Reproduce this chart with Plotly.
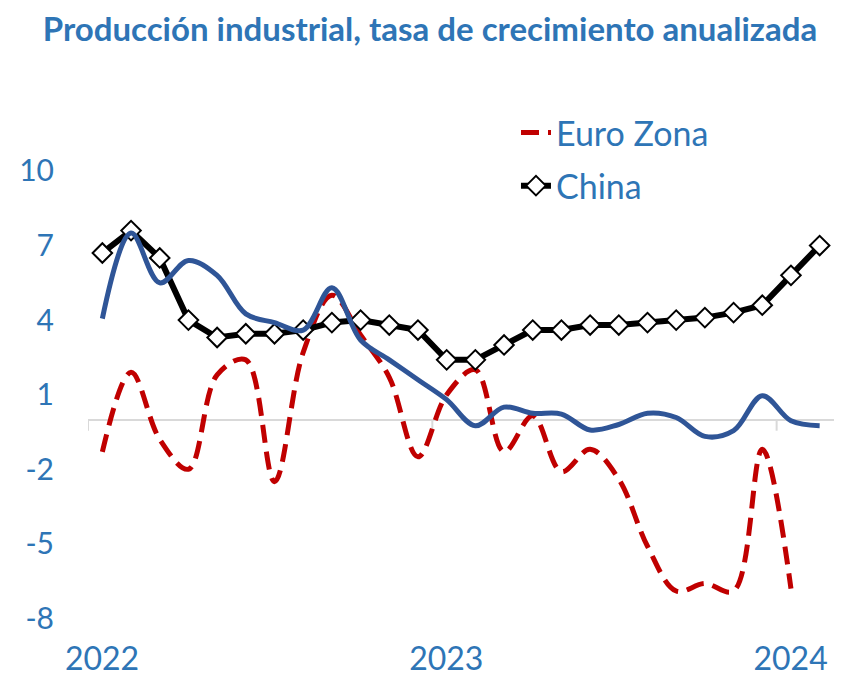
import plotly.graph_objects as go

# Monthly periods (Jan 2022 .. Feb 2024)
periods = ["2022-01", "2022-02", "2022-03", "2022-04", "2022-05", "2022-06",
           "2022-07", "2022-08", "2022-09", "2022-10", "2022-11", "2022-12",
           "2023-01", "2023-02", "2023-03", "2023-04", "2023-05", "2023-06",
           "2023-07", "2023-08", "2023-09", "2023-10", "2023-11", "2023-12",
           "2024-01", "2024-02"]

euro_zona = [-1.3, 1.9, -0.8, -2.0, 1.8, 2.4, -2.5, 2.7, 5.0, 3.4, 1.7, -1.5,
             1.0, 2.0, -1.3, 0.15, -2.1, -1.2, -2.4, -5.1, -6.9, -6.6, -6.9, -1.2,
             -6.8]

china = [6.7, 7.6, 6.5, 4.0, 3.3, 3.45, 3.45, 3.6, 3.9, 4.0, 3.8, 3.6,
         2.4, 2.4, 3.0, 3.6, 3.6, 3.8, 3.8, 3.9, 4.0, 4.1, 4.3, 4.6,
         5.8, 7.0]

otro = [4.06, 7.5, 5.5, 6.4, 5.8, 4.25, 3.9, 3.6, 5.3, 3.2, 2.4, 1.6,
        0.8, -0.25, 0.5, 0.25, 0.22, -0.42, -0.2, 0.25, 0.08, -0.68, -0.45, 0.96,
        -0.05, -0.25]

year_labels = ["2022", "2023", "2024"]
y_ticks = [10, 7, 4, 1, -2, -5, -8]

FONT = "Lato"
BLUE_TXT = "#2E75B6"


def pos(series):
    # month i is centred in its category slot
    return [i + 0.5 for i in range(len(series))]


year_pos = [periods.index(y + "-01") for y in year_labels]

fig = go.Figure()

fig.add_trace(go.Scatter(
    x=pos(euro_zona), y=euro_zona, name="Euro Zona", mode="lines",
    line=dict(color="#C00000", width=5, dash="18px,9px", shape="spline", smoothing=1.0),
    legendgroup="a", hoverinfo="skip"))

fig.add_trace(go.Scatter(
    x=pos(china), y=china, name="China", mode="lines+markers",
    line=dict(color="#000000", width=6),
    marker=dict(symbol="diamond", size=15, color="white",
                line=dict(color="black", width=2)),
    legendgroup="b", hoverinfo="skip"))

fig.add_trace(go.Scatter(
    x=pos(otro), y=otro, name="", mode="lines", showlegend=False,
    line=dict(color="#2F5597", width=5, shape="spline", smoothing=1.0),
    hoverinfo="skip"))

# small tick marks at year boundaries on the zero line
for v in year_pos:
    fig.add_shape(type="line", xref="x", yref="y", x0=v, x1=v, y0=0, y1=-0.45,
                  line=dict(color="#D9D9D9", width=2), layer="below")

W, H = 838, 676
fig.update_layout(
    width=W, height=H,
    margin=dict(l=80, r=12, t=158, b=47, autoexpand=False),
    paper_bgcolor="white", plot_bgcolor="white",
    title=dict(text="<b>Producción industrial, tasa de crecimiento anualizada</b>",
               font=dict(family=FONT, size=33, color=BLUE_TXT),
               x=422 / W, xref="container", xanchor="center",
               y=1 - 21 / H, yref="container", yanchor="middle"),
    showlegend=True,
    legend=dict(x=0.5737, xanchor="left", y=1.132, yanchor="top",
                font=dict(family=FONT, size=34, color=BLUE_TXT),
                bgcolor="rgba(0,0,0,0)", traceorder="grouped", tracegroupgap=6),
    xaxis=dict(range=[0, len(periods)], tickvals=year_pos, ticktext=year_labels,
               ticks="", showline=False, showgrid=False, zeroline=False,
               ticklabelshift=14, automargin=False,
               tickfont=dict(family=FONT, size=32, color=BLUE_TXT)),
    yaxis=dict(range=[-8.75, 10.2], tickvals=y_ticks, ticktext=[str(v) for v in y_ticks],
               ticks="", showline=False, automargin=False,
               showgrid=False, zeroline=True, zerolinecolor="#D9D9D9", zerolinewidth=2,
               ticklabelstandoff=33,
               tickfont=dict(family=FONT, size=30, color=BLUE_TXT)),
)

fig.write_html("out.html")
